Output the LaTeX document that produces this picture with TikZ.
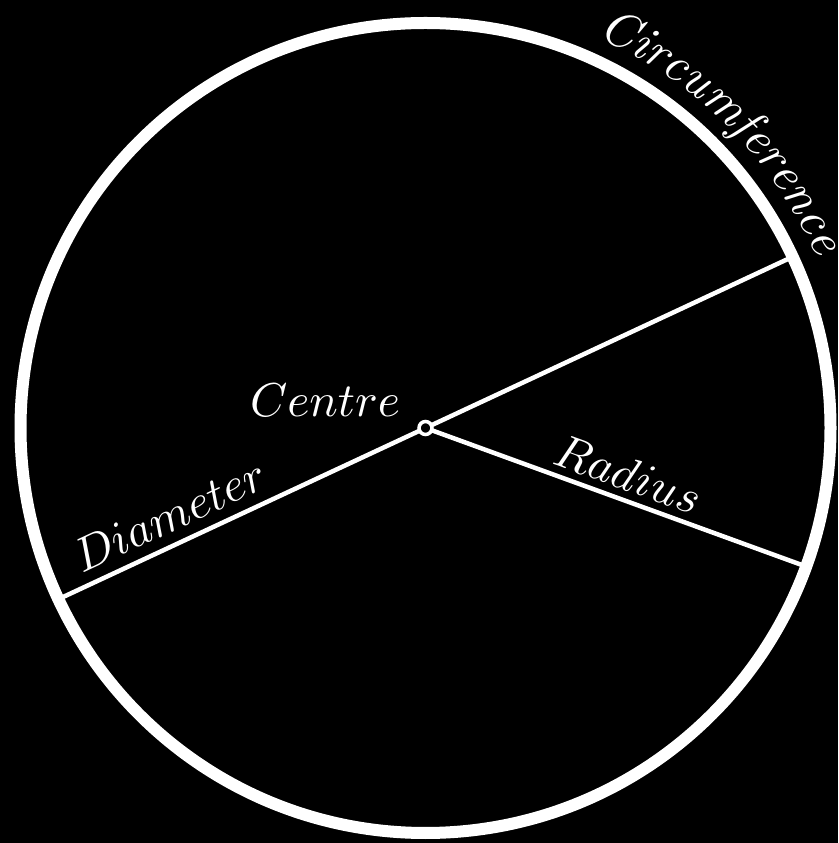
\documentclass[tikz,border=0pt]{standalone}
\usetikzlibrary{calc}
\newdimen\cumw
\begin{document}
\begin{tikzpicture}[x=1pt,y=1pt,
  lbl/.style={text=white, inner sep=0pt, scale=4.75, anchor=base},
  circlbl/.style={text=white, inner sep=0pt, scale=\cs, anchor=base},
  ring/.style={draw=white, line width=12pt},
  seg/.style={draw=white, line width=4.5pt},
  dot/.style={circle, draw=white, fill=black, line width=3.5pt, minimum size=13pt, inner sep=0pt}]
\fill[black] (0,0) rectangle (838,843);
\useasboundingbox (0,0) rectangle (838,843);
\def\R{405}
\def\cs{5.0}
\coordinate (c) at (425.5,415);
\draw[ring] (c) circle[radius=\R];
\coordinate (d1) at ($(c)+(205:\R)$);
\coordinate (d2) at ($(c)+(25:\R)$);
\coordinate (r1) at ($(c)+(-20:\R)$);
\draw[seg] (d1) -- (d2);
\draw[seg] (c) -- (r1);
\node[dot] (ctr) at (c) {};
\node[lbl] (centre) at (325,426) {$Centre$};
\node[lbl, rotate=25] (diam) at ($(d1)!0.168!(d2)+(115:13)$) {$Diameter$};
\node[lbl, rotate=-20] (rad) at ($(c)!0.509!(r1)+(70:10)$) {$Radius$};
\pgfinterruptpicture
  \setbox0=\hbox{\normalfont\itshape Circumference}\xdef\totw{\the\wd0}%
  \foreach \ch [count=\i] in {C,i,r,c,u,m,f,e,r,e,n,c,e}{%
    \setbox0=\hbox{\normalfont\itshape\ch}%
    \expandafter\xdef\csname cwid\i\endcsname{\the\wd0}%
  }%
\endpgfinterruptpicture
\global\cumw=0pt
\foreach \ch [count=\i] in {C,i,r,c,u,m,f,e,r,e,n,c,e}{
  \edef\cw{\csname cwid\i\endcsname}
  \pgfmathsetmacro\ang{45.5-((\the\cumw)+(\cw)/2-(\totw)/2)*\cs/427*180/pi}
  \path (c) ++(\ang:427) node[circlbl, rotate=\ang-90] (circ\i) {\itshape\ch};
  \global\advance\cumw by \cw\relax
}
\end{tikzpicture}
\end{document}
